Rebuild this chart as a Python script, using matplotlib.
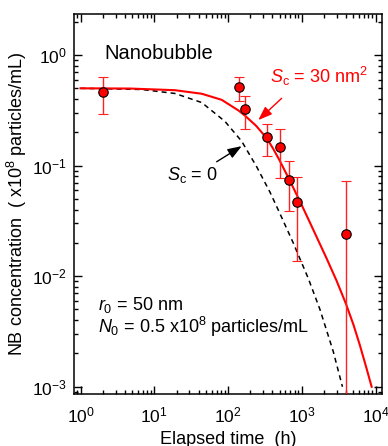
import matplotlib
matplotlib.use('Agg')
import matplotlib.pyplot as plt
from matplotlib.ticker import LogLocator, NullFormatter

# ---- data ----
time_h = [2, 142, 168, 337, 500, 675, 850, 3960]
conc = [0.463, 0.51, 0.323, 0.180, 0.146, 0.0746, 0.0466, 0.0239]
conc_err = [0.17, 0.125, 0.107, 0.059, 0.069, 0.036, 0.033, 0.049]

# model curve S_c = 30 nm^2 (red, solid)
fit_t = [1, 4.69, 19.05, 43.85, 81.8, 137.4, 169.4, 239.9, 336.5, 409.3, 501.2,
         674.5, 1000, 1288, 2168, 2951, 3963, 5012, 6124, 7499, 8831]
fit_n = [0.5, 0.4977, 0.4808, 0.4467, 0.3936, 0.3162, 0.2831, 0.2291, 0.1758, 0.1419,
         0.1109, 0.0750, 0.0437, 0.0305, 0.01445, 0.00912, 0.00562, 0.00363,
         0.00237, 0.00148, 0.001]

# model curve S_c = 0 (black, dashed)
zero_t = [1, 6.75, 19.1, 43.9, 90.8, 153, 244, 370, 501, 764, 1222, 1758, 2661, 3550]
zero_n = [0.5, 0.488, 0.449, 0.372, 0.251, 0.166, 0.0977, 0.0575, 0.0372, 0.0200,
          0.00955, 0.00501, 0.00209, 0.001]

xticks = [1, 10, 100, 1000, 10000]
yticks = [1e-3, 1e-2, 1e-1, 1]

plt.rcParams.update({
    'font.family': ['Liberation Sans', 'DejaVu Sans'],
    'mathtext.fontset': 'custom',
    'mathtext.rm': 'Liberation Sans',
    'mathtext.it': 'Liberation Sans:italic',
    'mathtext.bf': 'Liberation Sans:bold',
    'axes.unicode_minus': False,
    'lines.scale_dashes': False,
})

W, H = 388, 446
fig = plt.figure(figsize=(W / 100, H / 100), dpi=100)
ax = fig.add_axes([74 / W, 1 - 394 / H, 308 / W, 380 / H])
ax.set_xscale('log')
ax.set_yscale('log')
ax.set_xlim(0.816, 1.22e4)
ax.set_ylim(8.6e-4, 2.35)

ax.plot(zero_t, zero_n, color='black', lw=1.1, dashes=(3.6, 2.9), zorder=2)
ax.plot(fit_t, fit_n, color='#ff0000', lw=1.5, zorder=2)
ax.errorbar(time_h, conc, yerr=conc_err, fmt='o', ms=6.8, mfc='#ff0000', mec='black',
            mew=0.8, ecolor='#ff2020', elinewidth=1.0, capsize=3.3, capthick=1.0, zorder=3)

ax.set_xticks(xticks)
ax.set_yticks(yticks)
ax.xaxis.set_minor_locator(LogLocator(base=10, subs=range(2, 10), numticks=20))
ax.yaxis.set_minor_locator(LogLocator(base=10, subs=range(2, 10), numticks=20))
ax.xaxis.set_minor_formatter(NullFormatter())
ax.yaxis.set_minor_formatter(NullFormatter())
ax.tick_params(which='both', direction='in', top=True, right=True, width=1.0)
ax.tick_params(which='major', length=6)
ax.tick_params(which='minor', length=3)
ax.tick_params(axis='x', which='major', labelsize=12.5, pad=8)
ax.tick_params(axis='y', which='major', labelsize=12.5, pad=5)
for s in ax.spines.values():
    s.set_linewidth(1.1)

ax.set_xlabel('Elapsed time  (h)', fontsize=13, labelpad=4)
ax.set_ylabel('NB concentration  ( x10$^8$ particles/mL)', fontsize=13, labelpad=2)

ax.text(0.0974, 0.881, 'Nanobubble', transform=ax.transAxes, fontsize=14.5, va='baseline')
ax.text(0.636, 0.8176, r'$S_{\mathrm{c}}$ = 30 nm$^2$', transform=ax.transAxes,
        fontsize=13, color='#ff0000', va='baseline')
ax.text(0.301, 0.563, r'$S_{\mathrm{c}}$ = 0', transform=ax.transAxes, fontsize=13, va='baseline')
ax.text(0.079, 0.221, r'$r_0$ = 50 nm', transform=ax.transAxes, fontsize=13, va='baseline')
ax.text(0.079, 0.16, r'$N_0$ = 0.5 x10$^8$ particles/mL', transform=ax.transAxes,
        fontsize=13, va='baseline')

ax.annotate('', xy=(256.6, 0.258), xytext=(532, 0.406),
            arrowprops=dict(arrowstyle='-|>,head_length=0.6,head_width=0.22', color='#ff0000',
                            lw=1.0, mutation_scale=14, shrinkA=0, shrinkB=0))
ax.annotate('', xy=(153, 0.150), xytext=(70.1, 0.1084),
            arrowprops=dict(arrowstyle='-|>,head_length=0.6,head_width=0.22', color='black',
                            lw=1.0, mutation_scale=14, shrinkA=0, shrinkB=0))

fig.savefig('out.png', dpi=100)
